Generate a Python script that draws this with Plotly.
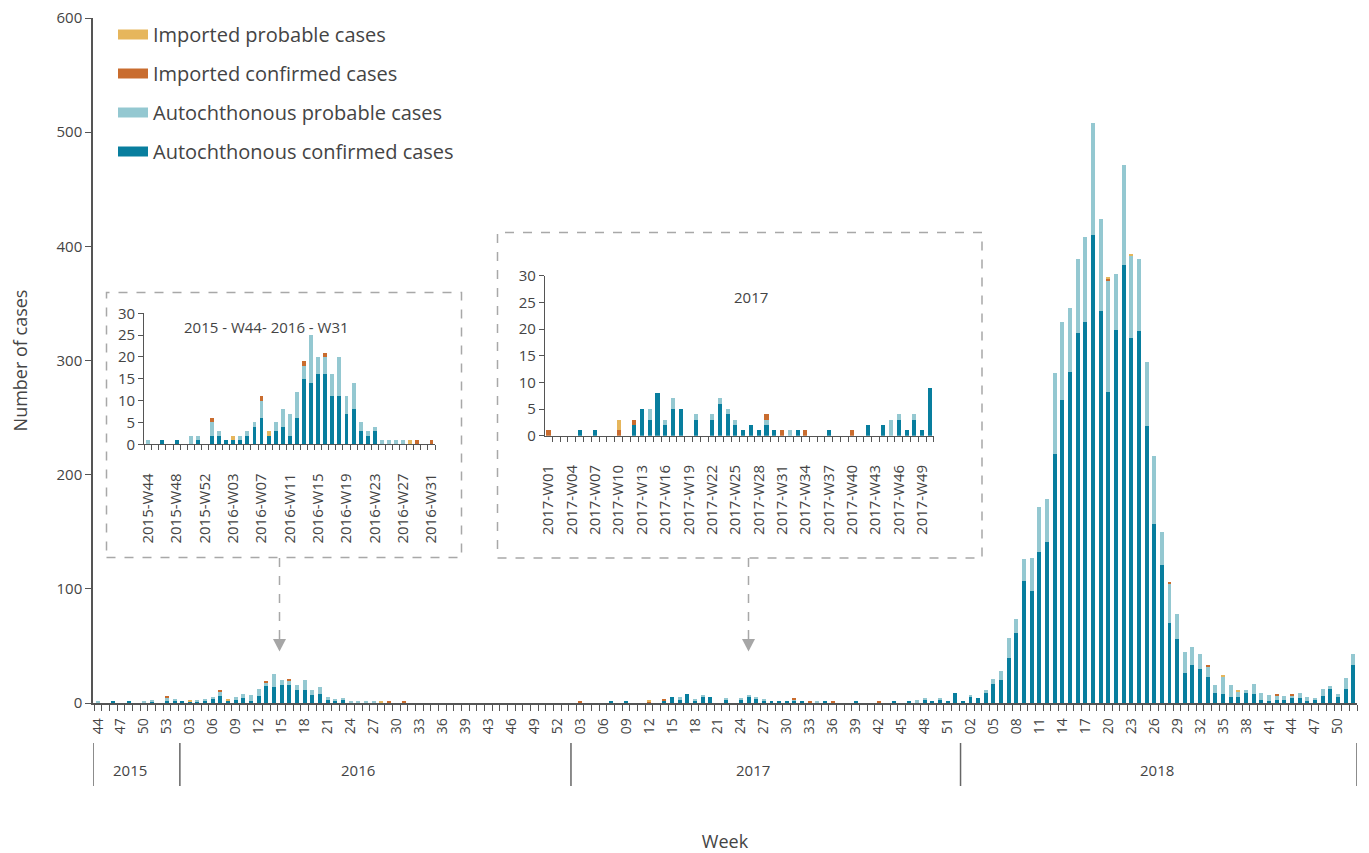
import plotly.graph_objects as go

# ---------------- DATA ----------------
# Period A: 2015-W44 .. 2016-W31 (41 weeks)  (also shown in inset 1)
a_conf = [0, 0, 1, 0, 1, 0, 0, 1, 0, 2,
          2, 1, 1, 1, 2, 4, 6, 2, 3, 4, 2, 6, 15, 14, 16, 16, 11, 11, 7, 8, 3, 2, 3, 0, 0, 0, 0, 0, 0, 0, 0]
a_prob = [1, 0, 0, 0, 0, 0, 2, 1, 0, 3,
          1, 0, 0, 1, 1, 1, 4, 0, 2, 4, 5, 6, 3, 11, 4, 4, 5, 9, 4, 6, 2, 1, 1, 1, 1, 1, 1, 0, 0, 0, 0]
a_impc = [0, 0, 0, 0, 0, 0, 0, 0, 0, 1,
          0, 0, 0, 0, 0, 0, 1, 0, 0, 0, 0, 0, 1, 0, 0, 1, 0, 0, 0, 0, 0, 0, 0, 0, 0, 0, 0, 0, 1, 0, 1]
a_impp = [0, 0, 0, 0, 0, 0, 0, 0, 0, 0,
          0, 0, 1, 0, 0, 0, 0, 1, 0, 0, 0, 0, 0, 0, 0, 0, 0, 0, 0, 0, 0, 0, 0, 0, 0, 0, 0, 1, 0, 0, 0]

# Period B: rest of 2016 (22 categories, no cases)
b_conf = [0, 0, 0, 0, 0, 0, 0, 0, 0, 0, 0, 0, 0, 0, 0, 0, 0, 0, 0, 0, 0, 0]
b_prob = [0, 0, 0, 0, 0, 0, 0, 0, 0, 0, 0, 0, 0, 0, 0, 0, 0, 0, 0, 0, 0, 0]
b_impc = [0, 0, 0, 0, 0, 0, 0, 0, 0, 0, 0, 0, 0, 0, 0, 0, 0, 0, 0, 0, 0, 0]
b_impp = [0, 0, 0, 0, 0, 0, 0, 0, 0, 0, 0, 0, 0, 0, 0, 0, 0, 0, 0, 0, 0, 0]

# Period C: 2017-W01 .. 2017-W50 (50 weeks)  (also shown in inset 2)
c_conf = [0, 0, 0, 0, 1, 0, 1, 0, 0, 0, 0, 2, 5, 3, 8, 2, 5, 5, 0, 3, 0, 3, 6, 4, 2,
          1, 2, 1, 2, 1, 0, 0, 1, 0, 0, 0, 1, 0, 0, 0, 0, 2, 0, 2, 0, 3, 1, 3, 1, 9]
c_prob = [0, 0, 0, 0, 0, 0, 0, 0, 0, 0, 0, 0, 0, 2, 0, 1, 2, 0, 0, 1, 0, 1, 1, 1, 1,
          0, 0, 0, 1, 0, 0, 1, 0, 0, 0, 0, 0, 0, 0, 0, 0, 0, 0, 0, 3, 1, 0, 1, 0, 0]
c_impc = [1, 0, 0, 0, 0, 0, 0, 0, 0, 1, 0, 1, 0, 0, 0, 0, 0, 0, 0, 0, 0, 0, 0, 0, 0,
          0, 0, 0, 1, 0, 1, 0, 0, 1, 0, 0, 0, 0, 0, 1, 0, 0, 0, 0, 0, 0, 0, 0, 0, 0]
c_impp = [0, 0, 0, 0, 0, 0, 0, 0, 0, 2, 0, 0, 0, 0, 0, 0, 0, 0, 0, 0, 0, 0, 0, 0, 0,
          0, 0, 0, 0, 0, 0, 0, 0, 0, 0, 0, 0, 0, 0, 0, 0, 0, 0, 0, 0, 0, 0, 0, 0, 0]

# Period D: 2018-W01 .. 2018-W52 (52 weeks)
d_conf = [2, 6, 4, 9, 17, 20, 39, 61, 107, 98, 132, 141, 218, 265, 290, 324, 334, 410, 343, 272,
          327, 384, 320, 326, 243, 157, 121, 70, 56, 26, 33, 30, 23, 9, 8, 5, 5, 9, 8, 3,
          2, 3, 3, 4, 4, 2, 3, 6, 12, 5, 12, 33]
d_prob = [0, 1, 0, 2, 4, 8, 18, 13, 19, 29, 40, 38, 71, 69, 56, 65, 74, 98, 81, 98,
          49, 87, 72, 63, 56, 59, 29, 34, 22, 19, 16, 13, 9, 7, 15, 11, 5, 2, 9, 6,
          5, 4, 3, 3, 5, 3, 1, 6, 3, 3, 10, 10]
d_impc = [0, 0, 0, 0, 0, 0, 0, 0, 0, 0, 0, 0, 0, 0, 0, 0, 0, 0, 0, 2,
          0, 0, 0, 0, 0, 0, 0, 2, 0, 0, 0, 0, 1, 0, 0, 0, 0, 0, 0, 0,
          0, 1, 0, 1, 0, 0, 0, 0, 0, 0, 0, 0]
d_impp = [0, 0, 0, 0, 0, 0, 0, 0, 0, 0, 0, 0, 0, 0, 0, 0, 0, 0, 0, 1,
          0, 0, 1, 0, 0, 0, 0, 0, 0, 0, 0, 0, 0, 0, 1, 0, 1, 0, 0, 0,
          0, 0, 0, 0, 0, 0, 0, 0, 0, 0, 0, 0]

# main x-axis tick labels (every 3rd category, as printed)
main_ticklabels = ["44", "47", "50", "53",
                   "03", "06", "09", "12", "15", "18", "21", "24", "27", "30", "33", "36", "39",
                   "43", "46", "49", "52",
                   "03", "06", "09", "12", "15", "18", "21", "24", "27", "30", "33", "36", "39",
                   "42", "45", "48", "51",
                   "02", "05", "08", "11", "14", "17", "20", "23", "26", "29", "32", "35", "38",
                   "41", "44", "47", "50"]
years = ["2015", "2016", "2017", "2018"]

inset1_ticklabels = ["2015-W44", "2015-W48", "2015-W52", "2016-W03", "2016-W07", "2016-W11",
                     "2016-W15", "2016-W19", "2016-W23", "2016-W27", "2016-W31"]
inset2_ticklabels = ["2017-W01", "2017-W04", "2017-W07", "2017-W10", "2017-W13", "2017-W16",
                     "2017-W19", "2017-W22", "2017-W25", "2017-W28", "2017-W31", "2017-W34",
                     "2017-W37", "2017-W40", "2017-W43", "2017-W46", "2017-W49"]
inset1_title = "2015 - W44- 2016 - W31"
inset2_title = "2017"

series_names = ["Autochthonous confirmed cases", "Autochthonous probable cases",
                "Imported confirmed cases", "Imported probable cases"]

# ---------------- BUILD ----------------
conf = a_conf + b_conf + c_conf + d_conf
prob = a_prob + b_prob + c_prob + d_prob
impc = a_impc + b_impc + c_impc + d_impc
impp = a_impp + b_impp + c_impp + d_impp
n = len(conf)
x_main = list(range(n))

colors = ["#087E9E", "#94C8D1", "#C96C2E", "#E6B65C"]
main_series = [conf, prob, impc, impp]
inset1_series = [a_conf, a_prob, a_impc, a_impp]
inset2_series = [c_conf, c_prob, c_impc, c_impp]

W, H = 1369, 853
L, R, T, B = 93, 12, 18, 150
PW, PH = W - L - R, H - T - B


def px(x):
    return (x - L) / PW


def py(y):
    return (H - B - y) / PH


fig = go.Figure()

for name, vals, col in zip(series_names, main_series, colors):
    fig.add_trace(go.Bar(x=x_main, y=vals, name=name, marker=dict(color=col, line=dict(width=0)),
                         width=0.52, showlegend=False, xaxis="x", yaxis="y"))
for name, vals, col in zip(series_names, inset1_series, colors):
    fig.add_trace(go.Bar(x=list(range(len(vals))), y=vals, name=name,
                         marker=dict(color=col, line=dict(width=0)),
                         width=0.55, showlegend=False, xaxis="x2", yaxis="y2"))
for name, vals, col in zip(series_names, inset2_series, colors):
    fig.add_trace(go.Bar(x=list(range(len(vals))), y=vals, name=name,
                         marker=dict(color=col, line=dict(width=0)),
                         width=0.52, showlegend=False, xaxis="x3", yaxis="y3"))

# legend entries (top to bottom)
for i in [3, 2, 1, 0]:
    fig.add_trace(go.Scatter(x=[None], y=[None], mode="lines", name=series_names[i],
                             line=dict(color=colors[i], width=11), legendgroup=str(i),
                             xaxis="x", yaxis="y"))

axis_col = "#555555"
txt_col = "#444444"
FONT = "Open Sans"

fig.update_layout(
    width=W, height=H,
    margin=dict(l=L, r=R, t=T, b=B, autoexpand=False),
    paper_bgcolor="white", plot_bgcolor="white",
    barmode="stack",
    font=dict(family=FONT, color=txt_col),
    showlegend=True,
    legend=dict(x=px(113), y=py(15), xanchor="left", yanchor="top",
                font=dict(size=20, color=txt_col), traceorder="grouped",
                tracegroupgap=10, bgcolor="rgba(0,0,0,0)"),
    xaxis=dict(range=[-0.65, 164.5], tickmode="array", automargin=False,
               tickvals=[3 * k for k in range(len(main_ticklabels))],
               ticktext=main_ticklabels, tickangle=-90, ticks="",
               ticklabelstandoff=8,
               tickfont=dict(size=14, color=txt_col),
               minor=dict(ticks="outside", tickmode="linear", tick0=-0.5, dtick=1,
                          ticklen=6, tickcolor=axis_col, tickwidth=1, showgrid=False),
               showline=True, linecolor=axis_col, linewidth=1.5,
               showgrid=False, zeroline=False,
               title=dict(text="Week", font=dict(size=18, color=txt_col), standoff=104)),
    yaxis=dict(range=[0, 600], tickmode="array", tickvals=[0, 100, 200, 300, 400, 500, 600],
               automargin=False,
               ticks="outside", ticklen=6, tickcolor=axis_col, tickwidth=1,
               tickfont=dict(size=15, color=txt_col),
               showline=True, linecolor=axis_col, linewidth=1.5,
               showgrid=False, zeroline=False,
               title=dict(text="Number of cases", font=dict(size=18, color=txt_col), standoff=24)),
    xaxis2=dict(domain=[px(144.3), px(435)], anchor="y2", range=[-0.56, 40.5], automargin=False,
                tickmode="array", tickvals=[4 * k for k in range(len(inset1_ticklabels))],
                ticktext=inset1_ticklabels, tickangle=-90, ticks="", ticklabelstandoff=22,
                tickfont=dict(size=15, color=txt_col),
                minor=dict(ticks="outside", tickmode="linear", tick0=-0.5, dtick=1,
                           ticklen=5, tickcolor=axis_col, tickwidth=1, showgrid=False),
                showline=True, linecolor=axis_col, linewidth=1.2,
                showgrid=False, zeroline=False),
    yaxis2=dict(domain=[py(444.3), py(313.3)], anchor="x2", range=[0, 30], automargin=False,
                tickmode="linear", tick0=0, dtick=5, ticks="outside", ticklen=5,
                tickcolor=axis_col, tickfont=dict(size=15, color=txt_col),
                showline=True, linecolor=axis_col, linewidth=1.2,
                showgrid=False, zeroline=False),
    xaxis3=dict(domain=[px(545), px(934.3)], anchor="y3", range=[-0.45, 49.55], automargin=False,
                tickmode="array", tickvals=[3 * k for k in range(len(inset2_ticklabels))],
                ticktext=inset2_ticklabels, tickangle=-90, ticks="", ticklabelstandoff=22,
                tickfont=dict(size=15, color=txt_col),
                minor=dict(ticks="outside", tickmode="linear", tick0=-0.5, dtick=1,
                           ticklen=5, tickcolor=axis_col, tickwidth=1, showgrid=False),
                showline=True, linecolor=axis_col, linewidth=1.2,
                showgrid=False, zeroline=False),
    yaxis3=dict(domain=[py(435.7), py(275.7)], anchor="x3", range=[0, 30], automargin=False,
                tickmode="linear", tick0=0, dtick=5, ticks="outside", ticklen=5,
                tickcolor=axis_col, tickfont=dict(size=15, color=txt_col),
                showline=True, linecolor=axis_col, linewidth=1.2,
                showgrid=False, zeroline=False),
)

shapes = []
dash_col = "#A8A8A8"
# inset boxes
for (x0, y0, x1, y1) in [(106.5, 292.5, 461.5, 557.5), (497.5, 232.5, 982, 558)]:
    shapes.append(dict(type="rect", xref="paper", yref="paper", x0=px(x0), x1=px(x1),
                       y0=py(y1), y1=py(y0), line=dict(color=dash_col, width=1.5, dash="dash"),
                       layer="below"))
# arrows from insets to the main chart
for ax in [279.5, 748.5]:
    shapes.append(dict(type="line", xref="paper", yref="paper", x0=px(ax), x1=px(ax),
                       y0=py(558), y1=py(639), line=dict(color=dash_col, width=1.5, dash="dash")))
    shapes.append(dict(type="path", xref="paper", yref="paper",
                       path="M {a},{b} L {c},{b} L {d},{e} Z".format(
                           a=px(ax - 6.5), b=py(639), c=px(ax + 6.5), d=px(ax), e=py(651.5)),
                       fillcolor="#A6A6A6", line=dict(width=0)))
# year separators below the axis
for xs in [-0.65, 10.7, 61.8, 112.7, 164.5]:
    shapes.append(dict(type="line", xref="x", yref="paper", x0=xs, x1=xs,
                       y0=py(743), y1=py(786), line=dict(color="#666666", width=1.5)))
fig.update_layout(shapes=shapes)

annotations = []
for yr, xc in zip(years, [4.2, 34.0, 85.6, 138.4]):
    annotations.append(dict(text=yr, x=xc, xref="x", y=py(770), yref="paper", showarrow=False,
                            font=dict(size=15, color=txt_col), xanchor="center", yanchor="middle"))
annotations.append(dict(text=inset1_title, x=px(266.7), y=py(326.5), xref="paper", yref="paper",
                        showarrow=False, font=dict(size=15, color=txt_col),
                        xanchor="center", yanchor="middle"))
annotations.append(dict(text=inset2_title, x=px(750.7), y=py(296.7), xref="paper", yref="paper",
                        showarrow=False, font=dict(size=15, color=txt_col),
                        xanchor="center", yanchor="middle"))
fig.update_layout(annotations=annotations)

# remove the default page margin so the figure fills the window exactly
fig.write_html("out.html", config={"displayModeBar": False},
               post_script="document.body.style.margin='0';document.body.style.overflow='hidden';")
